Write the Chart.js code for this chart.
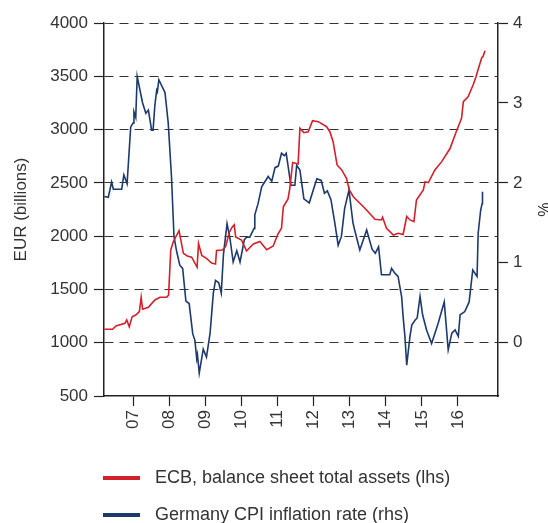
<!DOCTYPE html>
<html><head><meta charset="utf-8">
<script src="https://cdn.jsdelivr.net/npm/chart.js@4/dist/chart.umd.min.js"></script>
<style>html,body{margin:0;padding:0;background:#fff;}#wrap{width:548px;height:523px;position:relative;}</style>
</head><body><div id="wrap"><canvas id="c" width="548" height="523"></canvas></div>
<script>
// ---- data (decimal years on x) ----
const ecbDates = [2006.20,2006.43,2006.52,2006.77,2006.82,2006.89,2006.97,2007.07,2007.17,2007.22,2007.26,2007.42,2007.60,2007.74,2007.93,2007.98,2008.04,2008.11,2008.27,2008.39,2008.50,2008.62,2008.77,2008.81,2008.90,2009.03,2009.17,2009.28,2009.31,2009.47,2009.56,2009.66,2009.73,2009.80,2009.84,2010.00,2010.14,2010.33,2010.51,2010.70,2010.88,2011.01,2011.11,2011.16,2011.29,2011.34,2011.42,2011.57,2011.62,2011.73,2011.85,2011.97,2012.13,2012.36,2012.45,2012.54,2012.65,2012.78,2012.91,2012.99,2013.10,2013.38,2013.51,2013.70,2013.88,2013.91,2014.02,2014.21,2014.34,2014.48,2014.58,2014.67,2014.78,2014.85,2015.04,2015.09,2015.18,2015.36,2015.55,2015.78,2015.96,2016.10,2016.15,2016.28,2016.42,2016.50,2016.56,2016.66,2016.70,2016.75];
const ecbValues = [1126,1126,1157,1182,1213,1150,1244,1260,1291,1426,1314,1332,1401,1426,1426,1448,1870,1948,2051,1839,1814,1802,1708,1931,1818,1792,1748,1739,1865,1870,1901,2032,2079,2105,1992,1964,1861,1926,1950,1873,1908,2020,2074,2276,2349,2449,2691,2677,3012,2971,2980,3083,3074,3027,2980,2886,2668,2621,2543,2433,2370,2276,2229,2158,2152,2177,2074,2011,2027,2016,2184,2152,2136,2339,2433,2511,2502,2621,2699,2822,2987,3106,3262,3308,3418,3496,3566,3674,3690,3740];
const cpiDates = [2006.20,2006.31,2006.40,2006.45,2006.68,2006.74,2006.83,2006.93,2007.00,2007.02,2007.07,2007.11,2007.26,2007.35,2007.42,2007.51,2007.55,2007.60,2007.65,2007.67,2007.71,2007.88,2007.97,2008.06,2008.13,2008.20,2008.29,2008.37,2008.46,2008.55,2008.65,2008.71,2008.76,2008.78,2008.83,2008.94,2009.03,2009.13,2009.22,2009.28,2009.37,2009.44,2009.50,2009.60,2009.68,2009.77,2009.87,2009.96,2010.08,2010.14,2010.23,2010.35,2010.37,2010.46,2010.56,2010.74,2010.84,2010.93,2011.02,2011.11,2011.19,2011.24,2011.37,2011.48,2011.53,2011.62,2011.73,2011.88,2011.99,2012.09,2012.21,2012.30,2012.38,2012.48,2012.59,2012.68,2012.77,2012.86,2012.98,2013.09,2013.17,2013.28,2013.47,2013.62,2013.71,2013.80,2013.88,2014.11,2014.16,2014.25,2014.34,2014.44,2014.48,2014.53,2014.58,2014.67,2014.72,2014.81,2014.87,2014.95,2015.02,2015.13,2015.27,2015.45,2015.62,2015.73,2015.83,2015.92,2016.01,2016.06,2016.19,2016.31,2016.41,2016.53,2016.56,2016.63,2016.67,2016.68];
const cpiValues = [1.83,1.82,2.01,1.92,1.92,2.10,1.99,2.70,2.75,2.89,2.82,3.33,3.00,2.87,2.91,2.66,2.66,2.97,3.16,3.14,3.29,3.13,2.75,2.08,1.33,1.15,0.97,0.93,0.52,0.49,0.11,0.03,-0.20,-0.15,-0.38,-0.08,-0.18,0.12,0.62,0.78,0.75,0.62,1.10,1.49,1.31,1.01,1.15,1.01,1.29,1.32,1.32,1.43,1.60,1.74,1.95,2.08,2.02,2.19,2.21,2.37,2.34,2.37,1.97,1.97,2.22,2.16,1.80,1.75,1.91,2.05,2.03,1.87,1.90,1.79,1.49,1.22,1.33,1.68,1.91,1.50,1.35,1.16,1.41,1.17,1.12,1.20,0.85,0.85,0.93,0.87,0.83,0.57,0.33,0.08,-0.28,0.08,0.22,0.28,0.31,0.58,0.35,0.16,-0.01,0.24,0.51,-0.09,0.12,0.16,0.08,0.35,0.39,0.51,0.91,0.83,1.37,1.66,1.74,1.89];
const yearTicks = [2007,2008,2009,2010,2011,2012,2013,2014,2015,2016];
const yearLabels = ['07','08','09','10','11','12','13','14','15','16'];
const rightTicks = [0,1,2,3,4];
const seriesLabels = ['ECB, balance sheet total assets (lhs)','Germany CPI inflation rate (rhs)'];
const seriesColors = ['#d3202a','#1d3a6c'];

const FONT = '"Liberation Sans", Arial, Helvetica, sans-serif';
const TXT = '#333';

const legendPlugin = {
  id: 'stackLegend',
  afterDraw(chart) {
    const ctx = chart.ctx, a = chart.chartArea;
    chart.data.datasets.forEach((ds, i) => {
      const y = a.bottom + 82 + i * 37;
      ctx.save();
      ctx.strokeStyle = ds.borderColor; ctx.lineWidth = 4; ctx.lineCap = 'butt';
      ctx.beginPath(); ctx.moveTo(a.left - 1, y); ctx.lineTo(a.left + 36, y); ctx.stroke();
      ctx.fillStyle = TXT; ctx.font = '18px ' + FONT; ctx.textBaseline = 'middle'; ctx.textAlign = 'left';
      ctx.fillText(ds.label, a.left + 51, y);
      ctx.restore();
    });
  }
};

new Chart(document.getElementById('c'), {
  type: 'line',
  data: {
    datasets: [
      { label: seriesLabels[0], data: ecbDates.map((d,i)=>({x:d,y:ecbValues[i]})), yAxisID: 'y',
        borderColor: seriesColors[0], backgroundColor: seriesColors[0], borderWidth: 1.6, pointRadius: 0, tension: 0 },
      { label: seriesLabels[1], data: cpiDates.map((d,i)=>({x:d,y:cpiValues[i]})), yAxisID: 'y2',
        borderColor: seriesColors[1], backgroundColor: seriesColors[1], borderWidth: 1.6, pointRadius: 0, tension: 0 }
    ]
  },
  options: {
    responsive: false, animation: false,
    layout: { padding: { top: 23, left: 0, right: 0, bottom: 77 } },
    plugins: { legend: { display: false }, tooltip: { enabled: false } },
    scales: {
      x: {
        type: 'linear', min: 2006.19, max: 2017.11,
        afterBuildTicks: s => { s.ticks = yearTicks.map(v => ({ value: v })); },
        afterFit: s => { s.height = 50; },
        ticks: { callback: (v, i) => yearLabels[i], autoSkip: false, maxRotation: 90, minRotation: 90, padding: 4,
                 font: { family: FONT, size: 17 }, color: TXT },
        grid: { drawOnChartArea: false, drawTicks: true, tickLength: 10, tickColor: '#222', tickWidth: 1.2 },
        border: { display: true, color: '#222', width: 1.5 }
      },
      y: {
        type: 'linear', position: 'left', min: 500, max: 4000,
        afterFit: s => { s.width = 104; },
        ticks: { stepSize: 500, padding: 6, callback: v => String(v), font: { family: FONT, size: 17 }, color: TXT },
        grid: { color: c => (c.tick && c.tick.value === 500) ? 'rgba(0,0,0,0)' : '#333', lineWidth: 1,
                drawTicks: true, tickLength: 10, tickColor: '#222', tickWidth: 1.2, tickBorderDash: [] },
        border: { display: true, color: '#222', width: 1.5, dash: [9, 6] },
        title: { display: true, text: 'EUR (billions)', color: TXT, font: { family: FONT, size: 17, lineHeight: '20px' }, padding: { top: 11, bottom: 0 } }
      },
      y2: {
        type: 'linear', position: 'right', min: -2/3, max: 4,
        afterBuildTicks: s => { s.ticks = rightTicks.map(v => ({ value: v })); },
        afterFit: s => { s.width = 50; },
        ticks: { padding: 5, callback: v => String(v), font: { family: FONT, size: 17 }, color: TXT },
        grid: { drawOnChartArea: false, drawTicks: true, tickLength: 10, tickColor: '#222', tickWidth: 1.2 },
        border: { display: true, color: '#222', width: 1.5 },
        title: { display: true, text: '%', color: TXT, font: { family: FONT, size: 16, lineHeight: '12px' }, padding: { top: 0, bottom: 0 } }
      }
    }
  },
  plugins: [legendPlugin]
});
</script>
</body></html>
